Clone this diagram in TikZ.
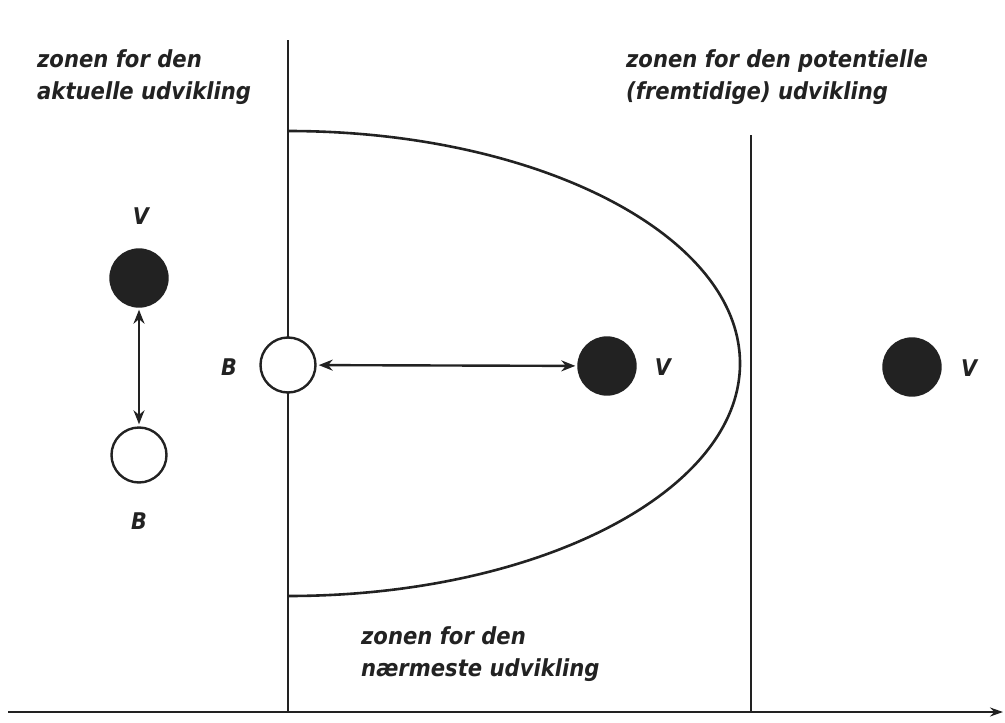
\documentclass[tikz,border=0pt]{standalone}
\usepackage{fontspec}
\setmainfont{DejaVu Sans Condensed}
\usetikzlibrary{arrows.meta}
\definecolor{ink}{HTML}{222222}
\begin{document}
\begin{tikzpicture}[x=1pt,y=-1pt,
  lbl/.style={font=\fontsize{23.5}{32}\selectfont\bfseries\itshape, text=ink, align=left, inner sep=0pt},
  letter/.style={font=\fontsize{23}{27}\selectfont\bfseries\itshape, text=ink, inner sep=0pt},
  ln/.style={draw=ink, line width=2.6pt},
  vdot/.style={circle, fill=ink, draw=ink, line width=2.4pt, minimum size=57pt, inner sep=0pt},
  bdot/.style={circle, fill=white, draw=ink, line width=2.4pt, minimum size=55pt, inner sep=0pt},
  dbl/.style={draw=ink, line width=2.4pt, {Stealth[length=14pt,width=11pt]}-{Stealth[length=14pt,width=11pt]}, shorten <=2pt, shorten >=2pt}
]
\useasboundingbox (0,0) rectangle (1005,723);
% axes and boundary lines
\coordinate (axL) at (8,712);
\coordinate (axR) at (1003,712);
\coordinate (l1t) at (288,40);
\coordinate (l1b) at (288,712);
\coordinate (l2t) at (751,135);
\coordinate (l2b) at (751,712);
\draw[ln, -{Stealth[length=13pt,width=9pt]}] (axL) -- (axR);
\draw[ln] (l1t) -- (l1b);
\draw[ln] (l2t) -- (l2b);
% half ellipse (zone of proximal development)
\draw[ln] (288,131) arc[start angle=-90, end angle=90, x radius=452, y radius=232.5];
% left pair
\node[vdot] (v1) at (139,278) {};
\node[bdot] (b1) at (139,455) {};
\node[letter] (v1l) at (141,216) {V};
\node[letter] (b1l) at (139,521) {B};
\draw[dbl] (v1) -- (b1);
% middle pair
\node[bdot] (b2) at (288,365) {};
\node[letter] (b2l) at (229,367) {B};
\node[vdot] (v2) at (607,366) {};
\node[letter] (v2l) at (663,367) {V};
\draw[dbl] (b2) -- (v2);
% right
\node[vdot] (v3) at (912,367) {};
\node[letter] (v3l) at (969,368) {V};
% zone labels
\node[lbl, anchor=north west] (z1) at (37,49) {zonen for den\\aktuelle udvikling};
\node[lbl, anchor=north west] (z2) at (626,49) {zonen for den potentielle\\(fremtidige) udvikling};
\node[lbl, anchor=north west] (z3) at (361,626) {zonen for den\\nærmeste udvikling};
\end{tikzpicture}
\end{document}
